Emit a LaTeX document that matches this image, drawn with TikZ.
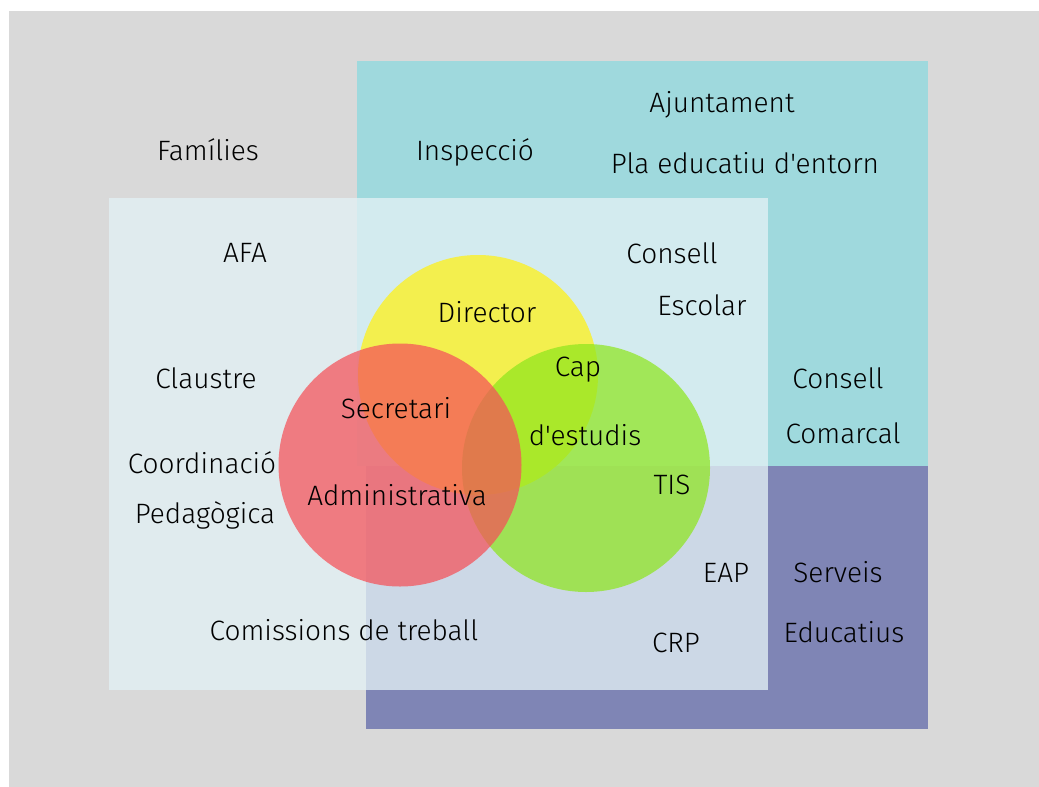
\documentclass[tikz,border=0pt]{standalone}
\usepackage{fontspec}
\newfontfamily\hand{Fira Sans Light}
\definecolor{bggray}{RGB}{217,217,217}
\definecolor{tealbox}{RGB}{159,217,221}
\definecolor{purpbox}{RGB}{127,133,181}
\definecolor{overbox}{RGB}{227,241,245}
\definecolor{yelc}{RGB}{243,239,78}
\definecolor{grnc}{RGB}{142,230,28}
\definecolor{redc}{RGB}{245,82,89}
\begin{document}
\begin{tikzpicture}[x=1pt,y=-1pt,
  lbl/.style={font=\hand\fontsize{28}{32}\selectfont, text=black, inner sep=0pt}]
\useasboundingbox (0,0) rectangle (1039,787);
\fill[white] (0,0) rectangle (1039,787);
\fill[bggray] (9,11) rectangle (1039,787);
\fill[tealbox] (357,61) rectangle (928,466);
\fill[purpbox] (366,466) rectangle (928,729);
\fill[overbox, opacity=0.776] (109,198) rectangle (768,690);
\fill[yelc] (478,375) circle [radius=120pt];
\fill[grnc, opacity=0.715] (586,468) circle [radius=124pt];
\fill[redc, opacity=0.73] (400,465) circle [radius=121.5pt];

\node[lbl] (fam) at (208,150) {Famílies};
\node[lbl] (insp) at (475,152) {Inspecció};
\node[lbl] (ajun) at (722,105) {Ajuntament};
\node[lbl] (pla) at (745,163) {Pla educatiu d'entorn};
\node[lbl] (afa) at (245,253) {AFA};
\node[lbl] (cons1) at (672,253) {Consell};
\node[lbl] (esc) at (702,305) {Escolar};
\node[lbl] (dir) at (487,312) {Director};
\node[lbl] (cap) at (578,370) {Cap};
\node[lbl] (dest) at (585,435) {d'estudis};
\node[lbl] (secr) at (396,408) {Secretari};
\node[lbl] (adm) at (397,495) {Administrativa};
\node[lbl] (tis) at (672,485) {TIS};
\node[lbl] (clau) at (206,378) {Claustre};
\node[lbl] (coord) at (202,463) {Coordinació};
\node[lbl] (ped) at (205,515) {Pedagògica};
\node[lbl] (cons2) at (838,378) {Consell};
\node[lbl] (comar) at (843,433) {Comarcal};
\node[lbl] (eap) at (726,573) {EAP};
\node[lbl] (serv) at (838,572) {Serveis};
\node[lbl] (crp) at (676,643) {CRP};
\node[lbl] (educ) at (844,632) {Educatius};
\node[lbl] (comis) at (344,630) {Comissions de treball};
\end{tikzpicture}
\end{document}
